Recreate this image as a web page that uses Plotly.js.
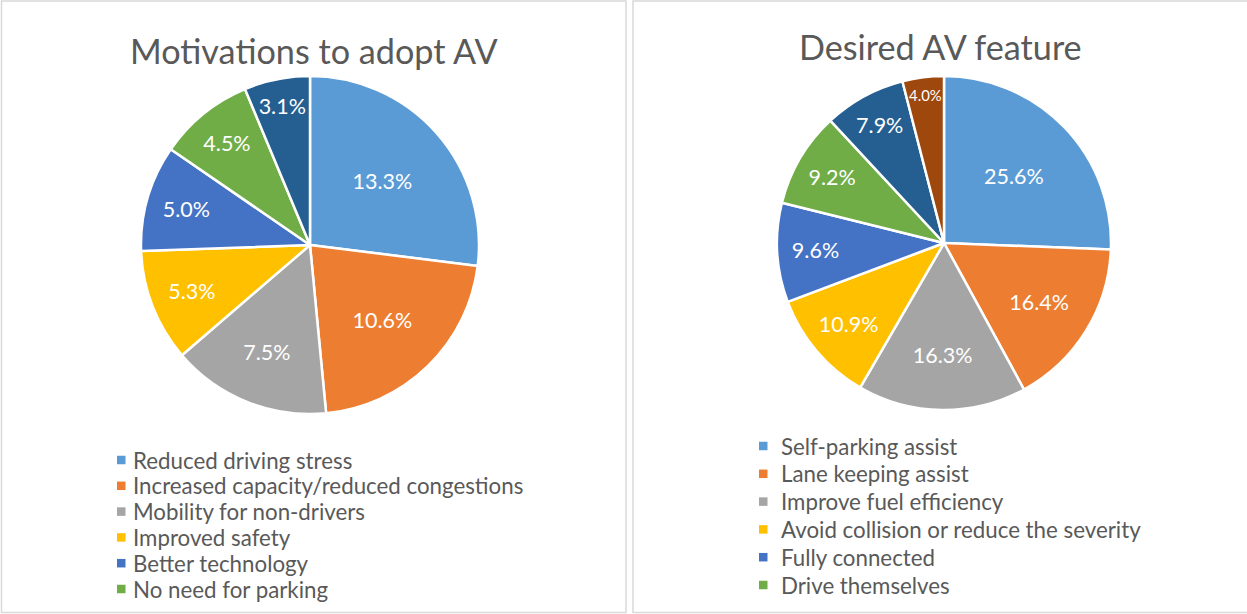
<!DOCTYPE html>
<html><head><meta charset="utf-8">
<script src="https://cdn.plot.ly/plotly-3.0.1.min.js"></script>
<style>html,body{margin:0;padding:0;background:#fff}#chart{width:1247px;height:614px}</style>
</head><body><div id="chart"></div>
<script>
// ---- data ----
const motivationTitle = "Motivations to adopt AV";
const motivationLabels = ["Reduced driving stress", "Increased capacity/reduced congestions", "Mobility for non-drivers", "Improved safety", "Better technology", "No need for parking", "Other"];
const motivationValues = [13.3, 10.6, 7.5, 5.3, 5.0, 4.5, 3.1];

const featureTitle = "Desired AV feature";
const featureLabels = ["Self-parking assist", "Lane keeping assist", "Improve fuel efficiency", "Avoid collision or reduce the severity", "Fully connected", "Drive themselves", "Other", "None"];
const featureValues = [25.6, 16.4, 16.3, 10.9, 9.6, 9.2, 7.9, 4.0];

const sliceColors = ["#5B9BD5", "#ED7D31", "#A5A5A5", "#FFC000", "#4472C4", "#70AD47", "#255E91", "#9E480E"];
const legendItemsShown = 6;

// ---- layout helpers ----
const W = 1247, H = 614;
const px = x => x / W;
const py = y => 1 - y / H;
const FONT = "Lato, 'Open Sans', sans-serif";
const TXT = "#595959";

function pieTrace(values, labels, x0, x1, y0, y1) {
  return {
    type: "pie", values: values, labels: labels, sort: false,
    direction: "clockwise", rotation: 0,
    marker: {colors: sliceColors.slice(0, values.length), line: {color: "#ffffff", width: 2.5}},
    texttemplate: "%{value:.1f}%", textposition: "inside",
    insidetextorientation: "horizontal",
    textfont: {color: "#ffffff", size: 21.5, family: FONT},
    domain: {x: [px(x0), px(x1)], y: [py(y1), py(y0)]},
    showlegend: false, hoverinfo: "label+value"
  };
}

const data = [
  pieTrace(motivationValues, motivationLabels, 141, 479, 76, 414),
  pieTrace(featureValues, featureLabels, 777, 1111, 76, 410)
];

const annotations = [
  {text: motivationTitle, x: px(314), y: py(50), xref: "paper", yref: "paper", xanchor: "center", yanchor: "middle", showarrow: false, font: {size: 34.2, color: TXT, family: FONT}},
  {text: featureTitle, x: px(940.5), y: py(46), xref: "paper", yref: "paper", xanchor: "center", yanchor: "middle", showarrow: false, font: {size: 34.2, color: TXT, family: FONT}}
];
const shapes = [
  {type: "rect", xref: "paper", yref: "paper", x0: px(1.5), x1: px(626), y0: py(612.5), y1: py(1), line: {color: "#d9d9d9", width: 1.5}, fillcolor: "rgba(0,0,0,0)"},
  {type: "rect", xref: "paper", yref: "paper", x0: px(633), x1: px(1260), y0: py(612.5), y1: py(1), line: {color: "#d9d9d9", width: 1.5}, fillcolor: "rgba(0,0,0,0)"}
];

function addLegend(labels, sqX, txtX, y0, dy, fontSize) {
  for (let i = 0; i < legendItemsShown; i++) {
    const yc = y0 + i * dy;
    shapes.push({type: "rect", xref: "paper", yref: "paper", x0: px(sqX), x1: px(sqX + 8.5), y0: py(yc + 4.25), y1: py(yc - 4.25), line: {width: 0}, fillcolor: sliceColors[i]});
    annotations.push({text: labels[i], x: px(txtX), y: py(yc), xref: "paper", yref: "paper", xanchor: "left", yanchor: "middle", showarrow: false, font: {size: fontSize, color: TXT, family: FONT}});
  }
}
addLegend(motivationLabels, 117, 131, 460, 25.8, 22.3);
addLegend(featureLabels, 759, 779, 446, 27.8, 22.3);

const layout = {
  width: W, height: H, margin: {l: 0, r: 0, t: 0, b: 0},
  paper_bgcolor: "#ffffff", plot_bgcolor: "#ffffff",
  showlegend: false, annotations: annotations, shapes: shapes,
  font: {family: FONT}
};
Plotly.newPlot("chart", data, layout, {displayModeBar: false, staticPlot: true});
</script></body></html>
